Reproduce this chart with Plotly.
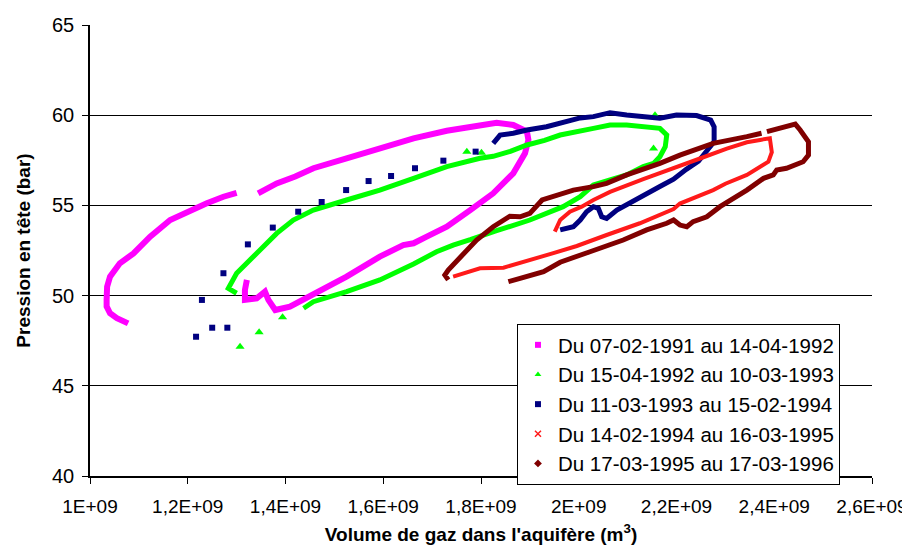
import plotly.graph_objects as go

# Volume (en 1E+09 m3) and pressure (bar)
names = ["Du 07-02-1991 au 14-04-1992", "Du 15-04-1992 au 10-03-1993",
         "Du 11-03-1993 au 15-02-1994", "Du 14-02-1994 au 16-03-1995",
         "Du 17-03-1995 au 17-03-1996"]

s1_x = [1.078, 1.055, 1.041, 1.034, 1.034, 1.035, 1.041, 1.061, 1.089, 1.123, 1.164, 1.205, 1.239, 1.273, 1.300, None,
        1.344, 1.382, 1.420, 1.457, 1.525, 1.593, 1.662, 1.730, 1.778, 1.832, 1.866, 1.894, 1.897, 1.890, 1.866,
        1.825, 1.778, 1.730, 1.689, 1.662, 1.641, 1.593, 1.525, 1.457, 1.409, 1.379, 1.365, 1.358, 1.341, 1.317,
        1.317, 1.321]
s1_y = [48.46, 48.75, 49.02, 49.40, 49.76, 50.49, 51.05, 51.79, 52.34, 53.27, 54.19, 54.74, 55.12, 55.48, 55.70, None,
        55.67, 56.22, 56.60, 57.06, 57.61, 58.16, 58.72, 59.14, 59.36, 59.58, 59.46, 59.09, 58.63, 57.89, 56.78,
        55.67, 54.74, 53.82, 53.27, 52.90, 52.80, 52.16, 51.05, 50.13, 49.39, 49.20, 49.76, 50.22, 49.85, 49.76,
        50.31, 50.87]

s2_x = [1.300, 1.283, 1.300, 1.327, 1.355, 1.382, 1.416, 1.457, 1.525, 1.593, 1.662, 1.730, 1.798, 1.825, 1.860,
        1.894, 1.930, 1.962, 2.030, 2.064, 2.098, 2.139, 2.166, 2.180, 2.177, 2.166, 2.153, 2.132, 2.098, 2.064,
        2.030, 2.003, 1.968, 1.900, 1.866, 1.832, 1.778, 1.743, 1.709, 1.662, 1.593, 1.525, 1.457, 1.437]
s2_y = [50.13, 50.40, 51.24, 51.97, 52.71, 53.45, 54.19, 54.74, 55.30, 55.85, 56.50, 57.15, 57.61, 57.72, 58.00,
        58.35, 58.60, 58.90, 59.27, 59.46, 59.46, 59.36, 59.27, 58.90, 58.25, 57.70, 57.33, 57.15, 56.69, 56.41,
        56.13, 55.48, 54.93, 54.19, 53.91, 53.60, 53.10, 52.80, 52.43, 51.75, 50.87, 50.22, 49.66, 49.30]
s2_sparse_x = [1.307, 1.346, 1.394, 1.771, 1.801, 2.153, 2.156]
s2_sparse_y = [47.17, 47.97, 48.80, 57.98, 57.92, 58.16, 60.00]

s3_sparse_x = [1.217, 1.250, 1.281, 1.229, 1.273, 1.323, 1.374, 1.426, 1.474, 1.524, 1.570, 1.616, 1.665, 1.723, 1.789]
s3_sparse_y = [47.72, 48.22, 48.22, 49.76, 51.24, 52.84, 53.77, 54.65, 55.19, 55.85, 56.35, 56.63, 57.06, 57.48, 57.98]
s3_x = [1.825, 1.839, 1.866, 1.894, 1.934, 1.962, 2.003, 2.030, 2.064, 2.098, 2.139, 2.166, 2.200, 2.241, 2.270,
        2.277, 2.277, 2.262, 2.245, 2.220, 2.194, 2.166, 2.130, 2.078, 2.057, 2.047, 2.040, 2.030, 2.016, 2.003,
        1.989, 1.962]
s3_y = [58.44, 58.90, 59.00, 59.18, 59.36, 59.55, 59.85, 59.92, 60.14, 60.01, 59.92, 59.83, 60.01, 59.98, 59.73,
        59.36, 58.53, 58.00, 57.45, 57.00, 56.45, 56.05, 55.50, 54.74, 54.28, 54.37, 54.84, 54.93, 54.65, 54.19,
        53.82, 53.64]

s4_x = [1.951, 1.962, 1.982, 2.006, 2.030, 2.064, 2.132, 2.200, 2.248, 2.303, 2.344, 2.371, 2.391, 2.395, 2.388,
        2.344, 2.300, 2.275, 2.207, 2.194, 2.125, 2.057, 1.996, 1.948, 1.914, 1.880, 1.846, 1.798, 1.764, 1.743]
s4_y = [53.55, 54.19, 54.65, 54.93, 55.30, 55.75, 56.45, 57.15, 57.60, 58.15, 58.50, 58.63, 58.72, 57.95, 57.42,
        56.69, 56.20, 55.85, 55.10, 54.80, 54.01, 53.36, 52.75, 52.35, 52.10, 51.80, 51.55, 51.51, 51.24, 51.05]

s5_x = [1.733, 1.726, 1.733, 1.750, 1.764, 1.791, 1.825, 1.859, 1.880, 1.900, 1.925, 1.962, 1.989, 2.030, 2.057,
        2.098, 2.166, 2.207, 2.275, 2.344, 2.374, None, 2.385, 2.443, 2.453, 2.470, 2.470, 2.459, 2.425, 2.405,
        2.398, 2.378, 2.344, 2.309, 2.289, 2.262, 2.234, 2.221, 2.207, 2.194, 2.180, 2.139, 2.091, 2.023, 1.962,
        1.928, 1.900, 1.880, 1.856]
s5_y = [50.87, 51.14, 51.42, 51.88, 52.34, 53.08, 53.82, 54.40, 54.37, 54.56, 55.30, 55.60, 55.85, 56.04, 56.22,
        56.69, 57.33, 57.79, 58.44, 58.81, 59.00, None, 59.09, 59.51, 59.18, 58.53, 57.79, 57.42, 57.06, 56.96,
        56.69, 56.50, 55.85, 55.30, 54.93, 54.37, 54.10, 53.82, 53.91, 54.19, 54.01, 53.64, 53.08, 52.43, 51.85,
        51.33, 51.14, 50.96, 50.77]

x_ticks = [1.0, 1.2, 1.4, 1.6, 1.8, 2.0, 2.2, 2.4, 2.6]
x_tick_labels = ["1E+09", "1,2E+09", "1,4E+09", "1,6E+09", "1,8E+09", "2E+09", "2,2E+09", "2,4E+09", "2,6E+09"]
y_ticks = [40, 45, 50, 55, 60, 65]

colors = ["#FF00FF", "#00FF00", "#000080", "#FF1A1A", "#800000"]
symbols = ["square", "triangle-up", "square", "x-thin-open", "diamond"]

fig = go.Figure()

dense = [(s1_x, s1_y, 6), (s2_x, s2_y, 5), (s3_x, s3_y, 5), (s4_x, s4_y, 4), (s5_x, s5_y, 5)]
for i, (xs, ys, w) in enumerate(dense):
    fig.add_trace(go.Scatter(x=xs, y=ys, mode="lines", showlegend=False,
                             line=dict(color=colors[i], width=w), hoverinfo="skip"))
    if i == 1:
        fig.add_trace(go.Scatter(x=s2_sparse_x, y=s2_sparse_y, mode="markers", showlegend=False,
                                 marker=dict(symbol="triangle-up", size=8, color=colors[1])))
    if i == 2:
        fig.add_trace(go.Scatter(x=s3_sparse_x, y=s3_sparse_y, mode="markers", showlegend=False,
                                 marker=dict(symbol="square", size=6, color=colors[2])))

for i, nm in enumerate(names):
    mk = dict(symbol=symbols[i], size=6, color=colors[i])
    if symbols[i] == "x-thin-open":
        mk["line"] = dict(color=colors[i], width=1.5)
    fig.add_trace(go.Scatter(x=[None], y=[None], mode="markers", name=nm, marker=mk))

# the page body adds an 8 px offset, so the figure is 902x544
fig.update_layout(
    width=902, height=544,
    margin=dict(l=82, r=38, t=17, b=76),
    paper_bgcolor="white", plot_bgcolor="white",
    font=dict(family="Liberation Sans, Arial, sans-serif", color="black", size=19),
    legend=dict(x=0.546, y=0.337, xanchor="left", yanchor="top",
                bgcolor="white", bordercolor="black", borderwidth=1,
                font=dict(size=20.5), traceorder="normal", entrywidth=295),
    xaxis=dict(range=[1.0, 2.6], tickvals=x_ticks, ticktext=x_tick_labels,
               showgrid=False, zeroline=False, showline=True, linecolor="black", linewidth=1.5,
               ticks="outside", ticklen=6, tickcolor="black", automargin=False,
               tickfont=dict(size=19), ticklabelstandoff=6,
               title=dict(text="<b>Volume de gaz dans l'aquifère (m<sup>3</sup>)</b>", font=dict(size=19), standoff=12)),
    yaxis=dict(range=[40, 65], tickvals=y_ticks,
               showgrid=True, gridcolor="black", gridwidth=1, zeroline=False,
               showline=True, linecolor="black", linewidth=1.5,
               ticks="outside", ticklen=6, tickcolor="black", automargin=False,
               tickfont=dict(size=20), ticklabelstandoff=4,
               title=dict(text="<b>Pression en tête (bar)</b>", font=dict(size=19), standoff=16)),
)

fig.write_html("out.html")
